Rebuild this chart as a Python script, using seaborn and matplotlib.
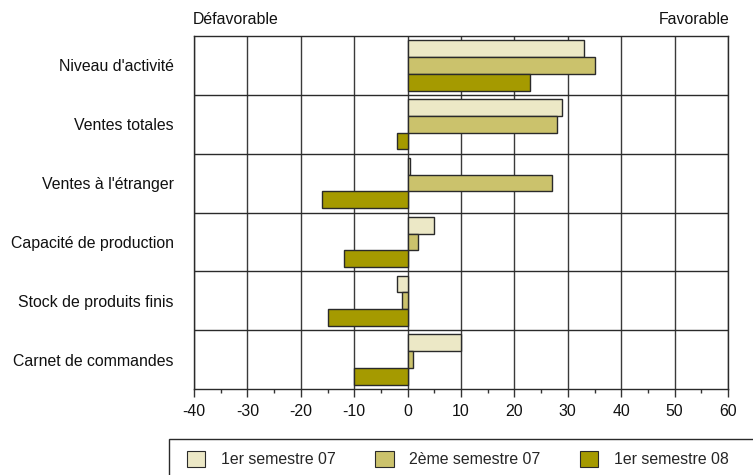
import matplotlib
matplotlib.use("Agg")
import matplotlib.pyplot as plt
from matplotlib.ticker import MultipleLocator
from matplotlib.patches import Rectangle
import seaborn as sns
import pandas as pd

categories = ["Niveau d'activité", "Ventes totales", "Ventes à l'étranger",
              "Capacité de production", "Stock de produits finis", "Carnet de commandes"]
series = ["1er semestre 07", "2ème semestre 07", "1er semestre 08"]
s1_07 = [33, 29, 0.5, 5, -2, 10]
s2_07 = [35, 28, 27, 2, -1, 1]
s1_08 = [23, -2, -16, -12, -15, -10]
x_ticks = [-40, -30, -20, -10, 0, 10, 20, 30, 40, 50, 60]
colors = ["#ECE8C6", "#CBC26C", "#A59A00"]

rows = []
for name, vals in zip(series, [s1_07, s2_07, s1_08]):
    for cat, v in zip(categories, vals):
        rows.append({"categorie": cat, "valeur": v, "serie": name})
df = pd.DataFrame(rows)

sns.set_theme(style="white")
plt.rcParams["font.family"] = ["Liberation Sans", "DejaVu Sans"]
FS = 11.4
EDGE = "#2a2a2a"

W, H = 753, 475
fig = plt.figure(figsize=(W / 100, H / 100), dpi=100)
ax = fig.add_axes([194 / W, (H - 389) / H, (728 - 194) / W, (389 - 36) / H])

sns.barplot(data=df, y="categorie", x="valeur", hue="serie", orient="h",
            order=categories, hue_order=series, palette=colors, width=0.855,
            edgecolor=EDGE, linewidth=1.0, saturation=1, ax=ax, zorder=3)

ax.set_xlim(x_ticks[0], x_ticks[-1])
ax.set_ylim(len(categories) - 0.5, -0.5)
ax.set_xticks(x_ticks)
ax.set_xticklabels([str(t) for t in x_ticks], fontsize=FS, color="#111111")
ax.xaxis.set_minor_locator(MultipleLocator(5))
ax.tick_params(axis="x", which="major", direction="out", length=5.5, width=1,
               color="#333333", pad=5, bottom=True)
ax.tick_params(axis="x", which="minor", direction="out", length=3, width=1,
               color="#333333", bottom=True)
ax.tick_params(axis="y", length=0, pad=14.5, labelsize=FS, labelcolor="#111111")
ax.set_xlabel("")
ax.set_ylabel("")

# vertical grid every 10 and separators between categories
for t in x_ticks:
    ax.axvline(t, color="#3a3a3a", lw=1.0, zorder=1)
for k in range(len(categories) - 1):
    ax.axhline(k + 0.5, color=EDGE, lw=1.0, zorder=1)
for sp in ax.spines.values():
    sp.set_color(EDGE)
    sp.set_linewidth(1.0)
    sp.set_visible(True)

fig.text(193 / W, 1 - 20 / H, "Défavorable", ha="left", va="center",
         fontsize=FS, color="#111111")
fig.text(729 / W, 1 - 20 / H, "Favorable", ha="right", va="center",
         fontsize=FS, color="#111111")

# legend box running off the bottom-right corner
fig.patches.append(Rectangle((169 / W, -0.1), 1.0, 0.1 + (H - 439) / H,
                             transform=fig.transFigure, fill=False,
                             edgecolor=EDGE, linewidth=1.0))

handles, labels = ax.get_legend_handles_labels()
ax.legend_.remove()
leg = fig.legend(handles, labels, loc="center left", ncol=3,
                 bbox_to_anchor=(187 / W, 1 - 459 / H), frameon=False,
                 fontsize=FS, handlelength=1.15, handleheight=1.15,
                 handletextpad=1.0, columnspacing=2.5, borderaxespad=0,
                 borderpad=0)
for h in leg.legend_handles:
    h.set_edgecolor(EDGE)
    h.set_linewidth(0.8)

fig.savefig("out.png", dpi=100)
